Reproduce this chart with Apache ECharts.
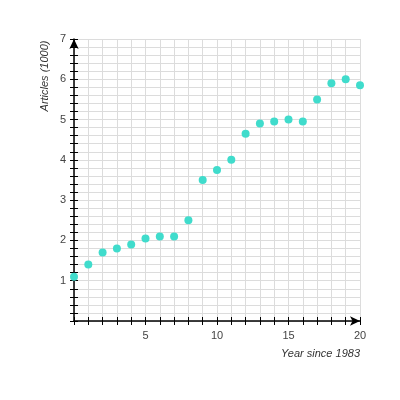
<!DOCTYPE html>
<html>
<head>
    <meta charset="utf-8">
    <title>Articles per year</title>
    <script src="https://cdn.jsdelivr.net/npm/echarts@6/dist/echarts.min.js"></script>
    <style>
        html, body { margin: 0; padding: 0; background: #fff; }
    </style>
</head>
<body>
<div id="main" style="width: 400px;height:400px;"></div>
<script type="text/javascript">
    // data
    var years = [0, 1, 2, 3, 4, 5, 6, 7, 8, 9, 10, 11, 12, 13, 14, 15, 16, 17, 18, 19, 20];
    var articles = [1.1, 1.4, 1.7, 1.8, 1.9, 2.05, 2.1, 2.1, 2.5, 3.5, 3.75, 4.0, 4.65, 4.9, 4.95, 5.0, 4.95, 5.5, 5.9, 6.0, 5.85];
    var xTickLabels = [5, 10, 15, 20];
    var yTickLabels = [1, 2, 3, 4, 5, 6, 7];

    var points = [];
    for (var i = 0; i < years.length; i++) {
        points.push([years[i], articles[i]]);
    }

    var myChart = echarts.init(document.getElementById('main'));
    var labelStyle = { color: '#444', fontSize: 11, fontFamily: 'Arial, "Liberation Sans", sans-serif' };

    var option = {
        animation: false,
        grid: { left: 74, right: 40, top: 39, bottom: 79, containLabel: false },
        xAxis: [{
            type: 'value', min: 0, max: 20, interval: 1,
            axisLine: { show: true, lineStyle: { color: '#000', width: 1.5 }, symbol: ['none', 'arrow'], symbolSize: [7, 10] },
            axisTick: { show: true, inside: false, length: 4, lineStyle: { color: '#000', width: 1 } },
            axisLabel: Object.assign({
                margin: 9,
                formatter: function (v) { return xTickLabels.indexOf(Math.round(v)) >= 0 ? String(Math.round(v)) : ''; }
            }, labelStyle),
            splitLine: { show: true, lineStyle: { color: '#dcdcdc', width: 1 } }
        }, {
            type: 'value', min: 0, max: 20, interval: 1, position: 'bottom',
            axisLine: { show: false },
            axisTick: { show: true, inside: true, length: 4, lineStyle: { color: '#000', width: 1 } },
            axisLabel: { show: false },
            splitLine: { show: false }
        }],
        yAxis: [{
            type: 'value', min: 0, max: 7, interval: 0.2,
            axisLine: { show: true, lineStyle: { color: '#000', width: 1.5 }, symbol: ['none', 'arrow'], symbolSize: [7, 10] },
            axisTick: { show: true, inside: false, length: 4, lineStyle: { color: '#000', width: 1 } },
            axisLabel: Object.assign({
                margin: 8,
                formatter: function (v) {
                    var r = Math.round(v);
                    return (Math.abs(v - r) < 1e-6 && yTickLabels.indexOf(r) >= 0) ? String(r) : '';
                }
            }, labelStyle),
            splitLine: { show: true, lineStyle: { color: '#dcdcdc', width: 1 } }
        }, {
            type: 'value', min: 0, max: 7, interval: 0.2, position: 'left',
            axisLine: { show: false },
            axisTick: { show: true, inside: true, length: 4, lineStyle: { color: '#000', width: 1 } },
            axisLabel: { show: false },
            splitLine: { show: false }
        }],
        graphic: [{
            type: 'text', x: 45, y: 76, rotation: Math.PI / 2,
            style: { text: 'Articles (1000)', fill: '#333', fontSize: 11, fontStyle: 'italic',
                fontFamily: 'Arial, "Liberation Sans", sans-serif', align: 'center', verticalAlign: 'middle' }
        }, {
            type: 'text', x: 360, y: 354,
            style: { text: 'Year since 1983', fill: '#333', fontSize: 11, fontStyle: 'italic',
                fontFamily: 'Arial, "Liberation Sans", sans-serif', align: 'right', verticalAlign: 'middle' }
        }],
        series: [{
            type: 'scatter',
            xAxisIndex: 0, yAxisIndex: 0,
            symbolSize: 8,
            itemStyle: { color: '#40dccc', opacity: 1 },
            data: points
        }]
    };
    myChart.setOption(option);
</script>
</body>
</html>
